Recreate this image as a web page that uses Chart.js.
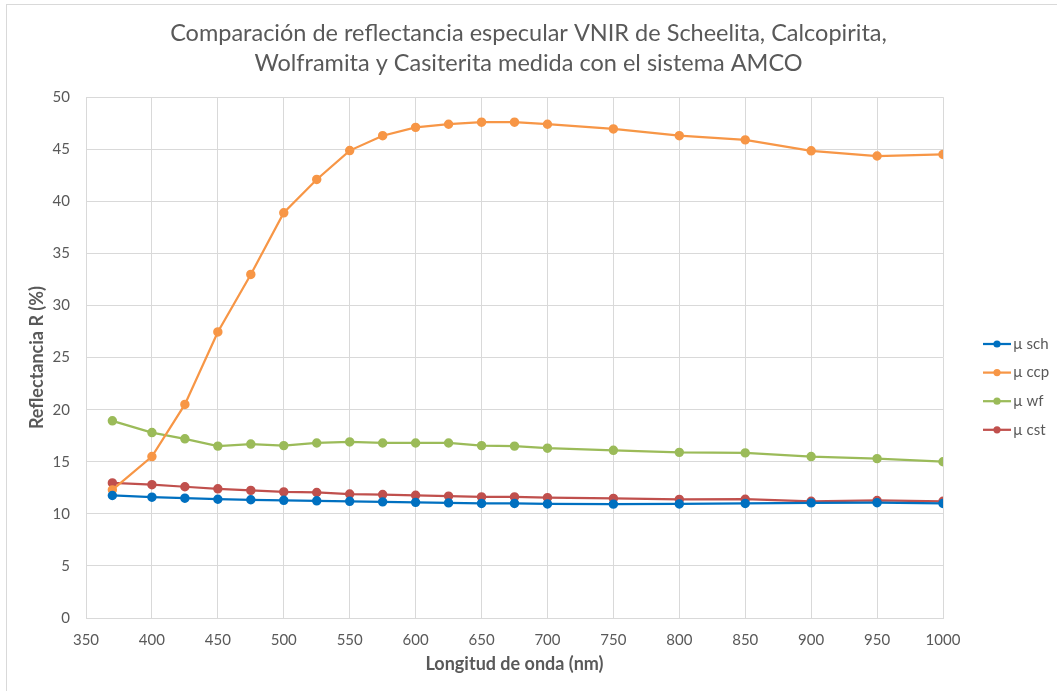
<!DOCTYPE html>
<html>
<head>
<meta charset="utf-8">
<script src="https://cdn.jsdelivr.net/npm/chart.js@4.4.1/dist/chart.umd.min.js"></script>
<style>
  html, body { margin: 0; padding: 0; background: #fff; }
  #wrap { width: 1057px; height: 691px; position: relative; }
</style>
</head>
<body>
<div id="wrap"><canvas id="reflChart" width="1057" height="691"></canvas></div>
<script>
// Wavelengths (nm)
const wavelengths = [370, 400, 425, 450, 475, 500, 525, 550, 575, 600, 625, 650, 675, 700, 750, 800, 850, 900, 950, 1000];

// Reflectance (%)
const sch = [11.76, 11.6, 11.5, 11.4, 11.35, 11.3, 11.25, 11.2, 11.15, 11.1, 11.05, 11.0, 11.0, 10.95, 10.93, 10.95, 11.0, 11.05, 11.07, 11.0];
const ccp = [12.3, 15.5, 20.5, 27.46, 32.98, 38.9, 42.1, 44.87, 46.3, 47.1, 47.4, 47.6, 47.6, 47.4, 46.95, 46.3, 45.9, 44.85, 44.35, 44.5];
const wf = [18.93, 17.8, 17.2, 16.5, 16.7, 16.55, 16.8, 16.9, 16.8, 16.8, 16.8, 16.55, 16.5, 16.3, 16.1, 15.9, 15.85, 15.5, 15.3, 15.0];
const cst = [12.97, 12.8, 12.6, 12.4, 12.25, 12.1, 12.05, 11.9, 11.85, 11.78, 11.7, 11.62, 11.62, 11.55, 11.48, 11.38, 11.4, 11.2, 11.28, 11.2];

const seriesNames = ["µ sch", "µ ccp", "µ wf", "µ cst"];
const seriesColors = ["#0070C0", "#F79646", "#9BBB59", "#C0504D"];

const textColor = "#595959";
const gridColor = "#d9d9d9";
const fontFamily = "Lato, 'Liberation Sans', sans-serif";

function toPoints(values) {
  return wavelengths.map((w, i) => ({ x: w, y: values[i] }));
}

// Outer frame of the chart area (Excel style)
const framePlugin = {
  id: "frame",
  beforeDraw(chart) {
    const ctx = chart.ctx;
    ctx.save();
    ctx.strokeStyle = gridColor;
    ctx.lineWidth = 1;
    ctx.strokeRect(6.5, 4.5, 1200, 900);
    ctx.restore();
  },
};

// Legend on the right: line + dot + label
const sideLegend = {
  id: "sideLegend",
  afterDraw(chart) {
    const ctx = chart.ctx;
    ctx.save();
    chart.data.datasets.forEach((ds, i) => {
      const y = 344 + i * 28.6;
      ctx.strokeStyle = ds.borderColor;
      ctx.lineWidth = 2.25;
      ctx.beginPath();
      ctx.moveTo(983, y);
      ctx.lineTo(1011, y);
      ctx.stroke();
      ctx.fillStyle = ds.borderColor;
      ctx.beginPath();
      ctx.arc(997, y, 3.6, 0, Math.PI * 2);
      ctx.fill();
      ctx.fillStyle = textColor;
      ctx.font = "15px " + fontFamily;
      ctx.textBaseline = "middle";
      ctx.textAlign = "left";
      ctx.fillText(ds.label, 1013, y);
    });
    ctx.restore();
  },
};

const datasets = [sch, ccp, wf, cst].map((vals, i) => ({
  label: seriesNames[i],
  data: toPoints(vals),
  borderColor: seriesColors[i],
  backgroundColor: seriesColors[i],
  borderWidth: 2.25,
  pointRadius: 3.6,
  pointHoverRadius: 4,
  tension: 0,
}));

const ctx = document.getElementById("reflChart").getContext("2d");
const reflChart = new Chart(ctx, {
  type: "line",
  data: { datasets: datasets },
  options: {
    responsive: false,
    animation: false,
    layout: { padding: 0 },
    plugins: {
      legend: { display: false },
      tooltip: { enabled: false },
      title: {
        display: true,
        text: [
          "Comparación de reflectancia especular VNIR de Scheelita, Calcopirita,",
          "Wolframita y Casiterita medida con el sistema AMCO",
        ],
        color: textColor,
        font: { family: fontFamily, size: 23.5, weight: "normal", lineHeight: 1.28 },
        padding: { top: 18, bottom: 19 },
      },
    },
    scales: {
      x: {
        type: "linear",
        min: 350,
        max: 1000,
        grid: { color: gridColor, drawTicks: false },
        border: { color: gridColor },
        ticks: {
          stepSize: 50,
          color: textColor,
          font: { family: fontFamily, size: 15 },
          padding: 13,
          maxRotation: 0,
          callback: (v) => String(v),
        },
        title: {
          display: true,
          text: "Longitud de onda (nm)",
          color: textColor,
          font: { family: fontFamily, size: 18, weight: "bold" },
          padding: { top: 0, bottom: 16 },
        },
        afterFit(scale) { scale.height = 73; },
      },
      y: {
        min: 0,
        max: 50,
        grid: { color: gridColor, drawTicks: false },
        border: { color: gridColor },
        ticks: {
          stepSize: 5,
          color: textColor,
          font: { family: fontFamily, size: 15 },
          padding: 16,
        },
        title: {
          display: true,
          text: "Reflectancia R (%)",
          color: textColor,
          font: { family: fontFamily, size: 18, weight: "bold" },
          padding: { top: 26, bottom: 0 },
        },
        afterFit(scale) { scale.width = 86; },
      },
      // empty axis that keeps room for the legend on the right
      legendSpace: {
        position: "right",
        display: true,
        grid: { display: false },
        border: { display: false },
        ticks: { display: false },
        afterFit(scale) { scale.width = 114; },
      },
    },
  },
  plugins: [framePlugin, sideLegend],
});
</script>
</body>
</html>
